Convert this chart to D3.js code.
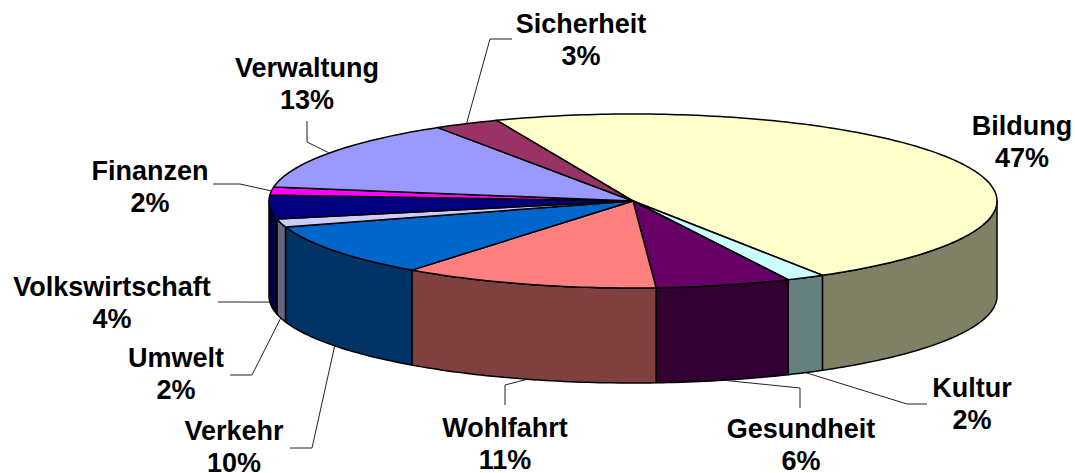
<!DOCTYPE html>
<html>
<head>
<meta charset="utf-8">
<script src="https://cdn.jsdelivr.net/npm/d3@7"></script>
<style>
  body { margin: 0; background: #fff; }
  svg { display: block; }
</style>
</head>
<body>
<svg id="chart"></svg>
<script>
// ── Data ──────────────────────────────────────────────────────────
const categories = ["Bildung", "Kultur", "Gesundheit", "Wohlfahrt", "Verkehr",
                    "Umwelt", "Volkswirtschaft", "Finanzen", "Verwaltung", "Sicherheit"];
const shares     = [47.4, 1.7, 6.0, 11.4, 9.8, 1.5, 4.4, 1.5, 13.4, 2.9];
const topColors  = ["#FFFFCC", "#CCFFFF", "#660066", "#FF8080", "#0066CC",
                    "#CCCCFF", "#000080", "#FF00FF", "#9999FF", "#993366"];

// label placement (text centre x, first baseline y) and leader knee/end points
const LABEL_LAYOUT = {
  "Bildung":         { x: 1022, y: 135, leader: null },
  "Kultur":          { x: 972,  y: 397, leader: [[907, 404], [927, 404]] },
  "Gesundheit":      { x: 801,  y: 438, leader: [[800, 388], [800, 408]] },
  "Wohlfahrt":       { x: 505,  y: 437, leader: [[505, 385], [505, 405]] },
  "Verkehr":         { x: 234,  y: 440, leader: [[312, 448], [290, 448]] },
  "Umwelt":          { x: 176,  y: 367, leader: [[252, 375], [230, 375]] },
  "Volkswirtschaft": { x: 112,  y: 296, leader: [[218, 302]] },
  "Finanzen":        { x: 150,  y: 180, leader: [[240, 184], [213, 184]] },
  "Verwaltung":      { x: 307,  y: 77,  leader: [[307, 142], [307, 121]] },
  "Sicherheit":      { x: 581,  y: 33,  leader: [[490, 39], [512, 39]] }
};

const W = 1075, H = 473;
const cx = 633, cy = 201, rx = 364, ry = 87, depth = 95;
const startDeg = -22;

const svg = d3.select("#chart").attr("width", W).attr("height", H);

const pie = d3.pie().sort(null).value(d => d)
  .startAngle(startDeg * Math.PI / 180)
  .endAngle(startDeg * Math.PI / 180 + 2 * Math.PI);
const arcs = pie(shares).map((a, i) => ({ ...a, name: categories[i], color: topColors[i] }));

const pt = (t, dy = 0) => [cx + rx * Math.sin(t), cy - ry * Math.cos(t) + dy];
const sample = (a0, a1) => {
  const n = Math.max(2, Math.ceil(Math.abs(a1 - a0) / (Math.PI / 180)));
  return d3.range(n + 1).map(k => a0 + (a1 - a0) * k / n);
};
const poly = pts => "M" + pts.map(p => p[0].toFixed(2) + "," + p[1].toFixed(2)).join("L") + "Z";
const shade = c => { const r = d3.rgb(c); return d3.rgb(r.r * 0.5, r.g * 0.5, r.b * 0.5).formatHex(); };

// ── Outer walls (front half only) ────────────────────────────────
const lo = Math.PI / 2, hi = 3 * Math.PI / 2;
const walls = svg.append("g");
arcs.forEach(a => {
  const s = Math.max(a.startAngle, lo), e = Math.min(a.endAngle, hi);
  if (e <= s) return;
  const ts = sample(s, e);
  const pts = ts.map(t => pt(t)).concat(ts.slice().reverse().map(t => pt(t, depth)));
  walls.append("path")
    .attr("d", poly(pts))
    .attr("fill", shade(a.color))
    .attr("stroke", "#000").attr("stroke-width", 1.5)
    .attr("stroke-linejoin", "round");
});

// ── Top faces ────────────────────────────────────────────────────
const tops = svg.append("g");
arcs.forEach(a => {
  const pts = [[cx, cy]].concat(sample(a.startAngle, a.endAngle).map(t => pt(t)));
  tops.append("path")
    .attr("d", poly(pts))
    .attr("fill", a.color)
    .attr("stroke", "#000").attr("stroke-width", 1.5)
    .attr("stroke-linejoin", "round");
});

// ── Leaders and labels ───────────────────────────────────────────
const labels = svg.append("g")
  .attr("font-family", "'Liberation Sans', Arial, Helvetica, sans-serif")
  .attr("font-weight", "bold").attr("font-size", 27)
  .attr("text-anchor", "middle").attr("fill", "#000");

arcs.forEach(a => {
  const lay = LABEL_LAYOUT[a.name];
  const mid = (a.startAngle + a.endAngle) / 2;
  const m = ((mid % (2 * Math.PI)) + 2 * Math.PI) % (2 * Math.PI);
  const front = m > lo && m < hi;
  const anchor = pt(mid, front ? depth : 0);
  if (lay.leader) {
    svg.append("path")
      .attr("d", "M" + [anchor].concat(lay.leader).map(p => p.join(",")).join("L"))
      .attr("fill", "none").attr("stroke", "#222").attr("stroke-width", 1);
  }
  const t = labels.append("text").attr("x", lay.x).attr("y", lay.y);
  t.append("tspan").attr("x", lay.x).text(a.name);
  t.append("tspan").attr("x", lay.x).attr("dy", 32)
    .text(Math.round(a.data) + "%");
});
</script>
</body>
</html>
